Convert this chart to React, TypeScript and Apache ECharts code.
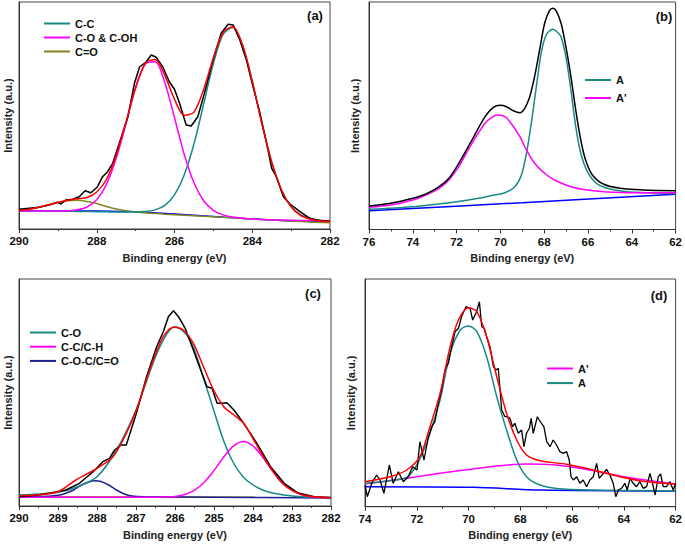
import { useEffect, useRef } from 'react';
import * as echarts from 'echarts';

const FONT = '"Liberation Sans", Arial, Helvetica, sans-serif';
const TEAL = '#178a85';
const MAGENTA = '#ff00ff';
const OLIVE = '#868620';
const RED = '#ff0000';
const BLUE = '#0000ff';
const NAVY = '#1f1f90';
const BLACK = '#000000';

// ---------- Panel (a): C 1s ----------
const A_X = [290, 289.75, 289.5, 289.25, 289, 288.75, 288.5, 288.25, 288, 287.75, 287.5, 287.25, 287, 286.75, 286.5, 286.25, 286, 285.75, 285.5, 285.25, 285, 284.75, 284.5, 284.25, 284, 283.75, 283.5, 283.25, 283, 282.75, 282.5, 282.25, 282];
const A_CC = [18, 18, 18, 18, 18, 17.8, 17.6, 17.5, 17.3, 17.2, 17, 17, 17.3, 17.5, 19.1, 23.7, 34.2, 54, 85, 125, 165.4, 194.5, 201.5, 183.8, 147.7, 105, 67, 39.3, 22.2, 14, 10.5, 8.8, 8.2];
const A_COH = [18, 18, 18, 18, 18, 18.3, 19.2, 22, 29.3, 44.6, 70.4, 105, 141, 165, 167.3, 146.5, 111.3, 74.8, 46.2, 28.3, 18.7, 14.1, 12, 10.8, 10, 9.5, 9.2, 9, 8.8, 8.6, 8.5, 8.4, 8.3];
const A_CEO = [18, 19.5, 21.5, 24, 26.5, 28.3, 28.8, 27.5, 25.5, 22.5, 20, 18.3, 17, 16.2, 15.5, 14.8, 14.2, 13.7, 13.2, 12.7, 12.3, 11.7, 11.2, 10.6, 10, 9.5, 9, 8.5, 8, 7.5, 7, 6.6, 6.3];
const A_FIT = [18.5, 19.8, 21.8, 24.2, 26.8, 28.8, 30.2, 31.5, 37, 49.5, 73.4, 106.6, 141.6, 165.8, 169.6, 153.7, 129.7, 113.8, 116.9, 139.5, 171.2, 196.5, 202.2, 183.9, 147.7, 105.1, 67, 39.3, 22.2, 13.5, 9.8, 8, 7.5];
const A_BG = [[290, 18.3], [288, 18], [287, 17.3], [286, 15], [285, 12.5], [284, 10], [283, 8], [282, 7.3]];
const A_RAW = [[290, 19.7], [289.74, 20.7], [289.48, 21.7], [289.23, 24], [289.01, 26.7], [288.92, 25], [288.8, 29], [288.62, 29.7], [288.45, 32.3], [288.3, 38.3], [288.15, 36.3], [287.98, 42.3], [287.85, 52.3], [287.72, 57.3], [287.59, 65.7], [287.42, 85.7], [287.2, 112], [287.03, 145.7], [286.9, 162], [286.73, 167], [286.6, 174], [286.47, 171.7], [286.3, 162], [286.13, 147], [286, 139.7], [285.87, 125.7], [285.7, 104], [285.57, 103], [285.4, 112.3], [285.23, 135.7], [285.01, 169], [284.8, 195.7], [284.62, 204.7], [284.49, 204], [284.32, 189], [284.15, 169], [283.98, 142.3], [283.8, 115.7], [283.63, 85.7], [283.5, 60.7], [283.38, 52.3], [283.2, 32.3], [283.03, 25], [282.77, 17.3], [282.52, 10.7], [282.26, 8.3], [282, 7.7]];

// ---------- Panel (b) ----------
const B_RAW = [[76, 23.5], [75, 26.2], [74, 31.2], [73.4, 35.5], [72.8, 42.8], [72.35, 51.2], [71.9, 66.2], [71.3, 89.5], [70.7, 112.8], [70.32, 122.2], [70.02, 124.2], [69.72, 122.8], [69.41, 118.8], [69.11, 116.8], [68.89, 121.2], [68.66, 132.8], [68.44, 152.8], [68.21, 179.5], [67.98, 206.2], [67.76, 218.8], [67.61, 221.2], [67.46, 218.8], [67.23, 206.2], [67.01, 182.8], [66.78, 152.8], [66.56, 119.5], [66.33, 89.5], [66.11, 69.5], [65.8, 54.5], [65.28, 45.2], [64.53, 41.2], [63.47, 39.5], [62, 38.8]];
const B_A = [[76, 20.2], [74, 22.8], [72, 27.8], [71, 31.2], [70.4, 34], [69.79, 36.8], [69.34, 42.8], [69.04, 54.5], [68.81, 76.2], [68.59, 106.2], [68.36, 142.8], [68.14, 176.2], [67.91, 194.5], [67.61, 200.2], [67.38, 197], [67.23, 192.8], [67.01, 172.8], [66.78, 139.5], [66.56, 102.8], [66.33, 76.2], [66.03, 57.8], [65.65, 46.8], [65.13, 41.2], [64.23, 37.8], [63.02, 36.5], [62, 35.8]];
const B_A2 = [[76, 22.2], [75, 24.5], [74, 29.5], [73.4, 34.5], [72.8, 41.2], [72.35, 49.5], [71.9, 62.8], [71.3, 86.2], [70.7, 106.2], [70.39, 112.2], [70.11, 114.5], [69.79, 112.8], [69.49, 105.5], [69.11, 92.8], [68.81, 79.5], [68.44, 66.2], [67.98, 56.2], [67.53, 49.5], [66.78, 42.8], [66.03, 39.5], [65.28, 37.8], [63.77, 36.8], [62, 36.8]];
const B_BG = [[76, 18.8], [69, 26.8], [62, 35.2]];

// ---------- Panel (c) ----------
const C_CO = [[290, 11], [289.5, 12], [289, 13.7], [288.5, 19.3], [288, 29.3], [287.5, 56], [287, 96], [286.5, 149.3], [286.2, 172.7], [286, 179.3], [285.7, 171], [285.5, 156], [285.27, 128], [285, 95], [284.75, 65], [284.5, 43], [284.25, 29], [284, 21], [283.75, 16], [283.5, 13], [283, 10], [282.5, 9], [282, 8.7]];
const C_CC = [[290, 8.7], [286.5, 8.7], [286.25, 8.9], [286, 9.6], [285.75, 11.5], [285.5, 15.9], [285.25, 23.8], [285, 35.5], [284.75, 49], [284.5, 60.1], [284.25, 64.5], [284, 60], [283.75, 48.8], [283.5, 35.2], [283.25, 23.5], [283, 15.6], [282.75, 11.2], [282.5, 9.3], [282.25, 8.5], [282, 8.2]];
const C_COC = [[290, 9.3], [289.5, 9.4], [289, 10.7], [288.8, 12.8], [288.6, 16], [288.4, 21], [288.2, 24.3], [288.05, 25.3], [287.9, 24.5], [287.7, 21], [287.5, 16], [287.3, 12], [287.1, 10], [286.8, 9.3], [285, 8.8], [282, 8]];
const C_BG = [[290, 9.3], [282, 8.7]];
const C_FIT = [[290, 10.3], [289.48, 11.3], [289, 14.3], [288.54, 26], [288, 37.7], [287.59, 49.3], [287.25, 72.7], [286.99, 96], [286.65, 136], [286.3, 169.3], [286.04, 178.7], [285.79, 176], [285.53, 162.7], [285.27, 139.3], [285.01, 116], [284.75, 99.3], [284.49, 91], [284.24, 82.7], [283.98, 66], [283.63, 42.7], [283.29, 24.3], [282.95, 14.3], [282.6, 10], [282, 8.3]];
const C_RAW = [[290, 9.3], [289.6, 10.5], [289.23, 12.7], [288.8, 16], [288.45, 22.7], [288.1, 34.3], [287.85, 44.3], [287.68, 47.7], [287.55, 56], [287.38, 61], [287.25, 61], [286.99, 92.7], [286.73, 129.3], [286.47, 159.3], [286.3, 174.3], [286.17, 189.3], [286.04, 195.3], [285.91, 189.3], [285.74, 177.7], [285.53, 156], [285.31, 132.7], [285.18, 119.3], [285.05, 117.7], [284.92, 102.7], [284.79, 102.7], [284.67, 103.3], [284.49, 96], [284.24, 82.7], [283.9, 62.7], [283.55, 39.3], [283.2, 22.7], [282.86, 13.3], [282.43, 9.3], [282, 8.3]];

// ---------- Panel (d) ----------
const D_BG = [[74, 20], [69.8, 19.4], [67.24, 16.7], [62, 15.7]];
const D_A = [[74, 23.4], [73.03, 26], [72.39, 29.4], [72, 41.7], [71.62, 63.4], [71.49, 73.3], [71.1, 106.7], [70.71, 153.3], [70.32, 176.7], [70, 180.7], [69.68, 175], [69.3, 150], [68.91, 110], [68.53, 76.7], [68.14, 46.7], [67.76, 30], [67.24, 21.7], [66.6, 18.3], [65.31, 16.7], [62, 16]];
const D_A2 = [[74, 22.7], [72.39, 28.4], [71.1, 33.4], [69.82, 37.7], [68.79, 41], [67.76, 42.7], [66.73, 42], [65.7, 38.4], [64.67, 33.4], [63.64, 28.4], [62, 22.7]];
const D_FIT = [[74, 25], [73.03, 30], [72.39, 36.7], [71.88, 50], [71.49, 80], [71.1, 113.3], [70.71, 160], [70.39, 186.7], [70, 199], [69.68, 195], [69.3, 170], [68.91, 130], [68.53, 93.3], [68.14, 66.7], [67.76, 51.7], [67.24, 46], [66.21, 42.4], [65.18, 36.7], [64.15, 30], [63.12, 25], [62, 22.7]];
const D_RAW = [[74, 21.7], [73.91, 10], [73.74, 23.4], [73.55, 31.7], [73.42, 26.7], [73.27, 13.4], [73.06, 41.7], [72.91, 23.4], [72.71, 35], [72.52, 25], [72.33, 30], [72.16, 40], [71.99, 36.7], [71.88, 65], [71.72, 46.7], [71.55, 70], [71.42, 80], [71.3, 85], [71.17, 103.4], [71.04, 116.7], [70.91, 136.7], [70.78, 143.4], [70.65, 160], [70.52, 175], [70.39, 178.4], [70.27, 190], [70.1, 200], [69.94, 198.4], [69.84, 186.7], [69.69, 195], [69.58, 205], [69.49, 180], [69.39, 178.4], [69.3, 170], [69.17, 160], [69.04, 140], [68.94, 136.7], [68.85, 138.4], [68.72, 96.7], [68.59, 90], [68.49, 90], [68.4, 88.4], [68.3, 80], [68.21, 83.4], [68.08, 73.4], [67.95, 76.7], [67.86, 60], [67.76, 73.4], [67.65, 78.4], [67.58, 88.4], [67.5, 73.4], [67.42, 81.7], [67.34, 90], [67.27, 86.7], [67.18, 83.4], [67.09, 80], [66.98, 65], [66.85, 60], [66.73, 66.7], [66.6, 61.7], [66.47, 55], [66.34, 53.4], [66.21, 55], [66.11, 46.7], [66.04, 30], [65.95, 26.7], [65.82, 30], [65.7, 23.4], [65.57, 26.7], [65.44, 20], [65.31, 26.7], [65.18, 30], [65.05, 43.4], [64.95, 28.4], [64.79, 33.4], [64.67, 37.4], [64.54, 31.7], [64.41, 23.4], [64.31, 10], [64.21, 16.7], [64.09, 18.4], [63.96, 23.4], [63.87, 16.7], [63.76, 28.4], [63.64, 23.4], [63.51, 20], [63.38, 25], [63.25, 18.4], [63.12, 20], [62.99, 33.4], [62.89, 23.4], [62.79, 11.7], [62.67, 30], [62.58, 32.7], [62.48, 20], [62.35, 20], [62.22, 25], [62.09, 16.7], [62, 23.4]];

const zip = (xs: number[], ys: number[]) => xs.map((x, i) => [x, ys[i]]);

function line(name: string, data: number[][], color: string, idx: number, smooth: boolean | number, z: number, width = 1.5) {
  return {
    name, type: 'line', data, xAxisIndex: idx, yAxisIndex: idx,
    symbol: 'none', showSymbol: false, smooth, silent: true, z,
    lineStyle: { color, width }, itemStyle: { color },
    emphasis: { disabled: true },
  };
}

function xAxis(idx: number, min: number, max: number, interval: number) {
  return {
    gridIndex: idx, type: 'value', min, max, interval, inverse: true,
    name: 'Binding energy (eV)', nameLocation: 'middle', nameGap: 23,
    nameTextStyle: { fontFamily: FONT, fontWeight: 'bold', fontSize: 11, color: '#222' },
    axisLine: { show: true, lineStyle: { color: '#333', width: 1 } },
    axisTick: { show: true, length: 4, inside: false, lineStyle: { color: '#333' } },
    minorTick: { show: true, splitNumber: 2, length: 2, lineStyle: { color: '#333' } },
    axisLabel: { fontFamily: FONT, fontWeight: 'bold', fontSize: 11.5, color: '#111', margin: 6 },
    splitLine: { show: false },
  };
}

function yAxis(idx: number, max: number, gap: number) {
  return {
    gridIndex: idx, type: 'value', min: 0, max,
    name: 'Intensity (a.u.)', nameLocation: 'middle', nameGap: gap,
    nameTextStyle: { fontFamily: FONT, fontWeight: 'bold', fontSize: 11, color: '#222' },
    axisLine: { show: true, lineStyle: { color: '#333', width: 1 } },
    axisTick: { show: false }, axisLabel: { show: false }, splitLine: { show: false },
  };
}

function legend(left: number, top: number, gap: number, data: string[]) {
  return {
    orient: 'vertical', left, top, padding: 0, itemWidth: 26, itemHeight: 2, icon: 'rect', itemGap: gap,
    selectedMode: false,
    textStyle: { fontFamily: FONT, fontSize: 11, fontWeight: 'bold', color: '#111', lineHeight: 13 },
    data,
  };
}

function panelLabel(text: string, x: number, y: number) {
  return {
    type: 'text', x, y,
    style: { text, fontFamily: FONT, fontWeight: 'bold', fontSize: 13, fill: '#111', textAlign: 'center', textVerticalAlign: 'middle' },
  };
}

export default function App() {
  const ref = useRef<HTMLDivElement>(null);
  useEffect(() => {
    if (!ref.current) return;
    const chart = echarts.init(ref.current, undefined, { renderer: 'svg' });
    const gridStyle = { show: true, borderColor: '#444', borderWidth: 1, backgroundColor: 'transparent', containLabel: false };
    chart.setOption({
      animation: false,
      backgroundColor: '#ffffff',
      grid: [
        { ...gridStyle, left: 19, top: 2, width: 311, height: 227 },
        { ...gridStyle, left: 369, top: 2, width: 310, height: 227.5 },
        { ...gridStyle, left: 19, top: 279, width: 312, height: 227 },
        { ...gridStyle, left: 365, top: 279, width: 311, height: 227.7 },
      ],
      xAxis: [xAxis(0, 282, 290, 2), xAxis(1, 62, 76, 2), xAxis(2, 282, 290, 1), xAxis(3, 62, 74, 2)],
      yAxis: [yAxis(0, 227, 6), yAxis(1, 227.5, 9), yAxis(2, 227, 6), yAxis(3, 227.7, 9)],
      legend: [
        legend(44, 17, 1, ['C-C', 'C-O & C-OH', 'C=O']),
        legend(585, 73.5, 5, ['A', "A'"]),
        legend(30, 326, 1.2, ['C-O', 'C-C/C-H', 'C-O-C/C=O']),
        legend(547, 362, 1.6, ["A'", 'A']),
      ],
      graphic: [
        panelLabel('(a)', 315, 15),
        panelLabel('(b)', 664, 16),
        panelLabel('(c)', 313, 293),
        panelLabel('(d)', 659, 295),
      ],
      series: [
        line('bg-a', A_BG, BLUE, 0, false, 1),
        line('C=O', zip(A_X, A_CEO), OLIVE, 0, 0.3, 2),
        line('C-C', zip(A_X, A_CC), TEAL, 0, 0.3, 3),
        line('C-O & C-OH', zip(A_X, A_COH), MAGENTA, 0, 0.3, 3),
        line('raw-a', A_RAW, BLACK, 0, false, 4),
        line('fit-a', zip(A_X, A_FIT), RED, 0, 0.3, 5),

        line('bg-b', B_BG, BLUE, 1, 0.3, 1),
        line('A', B_A, TEAL, 1, 0.3, 3),
        line("A'", B_A2, MAGENTA, 1, 0.3, 3),
        line('raw-b', B_RAW, BLACK, 1, 0.3, 4),

        line('bg-c', C_BG, OLIVE, 2, false, 1),
        line('C-O-C/C=O', C_COC, NAVY, 2, 0.3, 2),
        line('C-O', C_CO, TEAL, 2, 0.3, 3),
        line('C-C/C-H', C_CC, MAGENTA, 2, 0.3, 3),
        line('raw-c', C_RAW, BLACK, 2, false, 4),
        line('fit-c', C_FIT, RED, 2, 0.3, 5),

        line('bg-d', D_BG, BLUE, 3, 0.3, 1),
        line("A'", D_A2, MAGENTA, 3, 0.3, 2),
        line('A', D_A, TEAL, 3, 0.3, 3),
        line('raw-d', D_RAW, BLACK, 3, false, 4, 1.3),
        line('fit-d', D_FIT, RED, 3, 0.3, 5),
      ],
    });
    return () => chart.dispose();
  }, []);
  return <div ref={ref} style={{ position: 'absolute', left: 0, top: 0, width: 685, height: 546, background: '#fff' }} />;
}
